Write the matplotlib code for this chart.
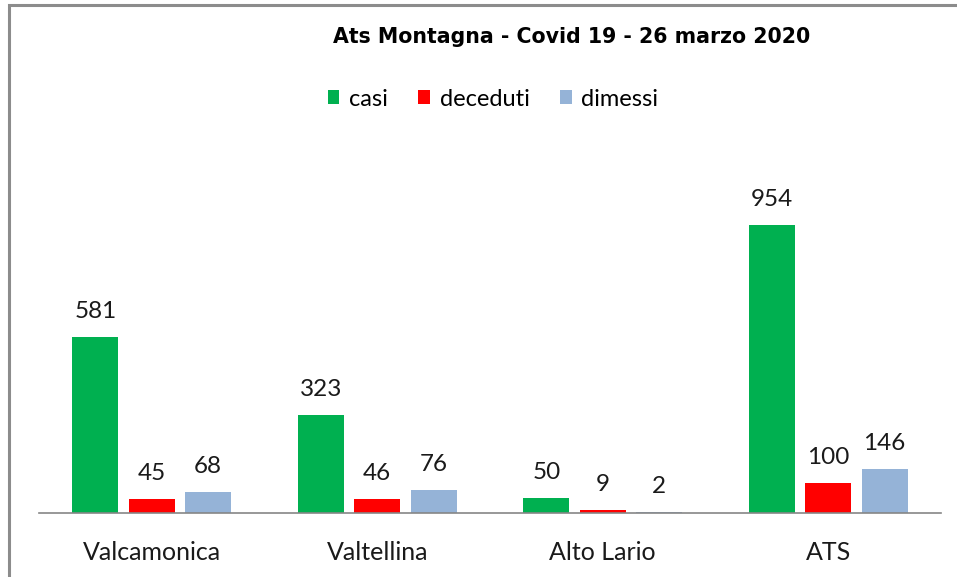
import matplotlib.pyplot as plt
import numpy as np
from matplotlib.patches import Rectangle

# --- Données ---
categorie = ["Valcamonica", "Valtellina", "Alto Lario", "ATS"]
casi = [581, 323, 50, 954]
deceduti = [45, 46, 9, 100]
dimessi = [68, 76, 2, 146]

serie = [("casi", casi, "#00B050"),
         ("deceduti", deceduti, "#FF0000"),
         ("dimessi", dimessi, "#95B3D7")]

plt.rcParams["font.family"] = ["Lato", "DejaVu Sans"]

W, H = 957, 577
fig = plt.figure(figsize=(W / 100, H / 100), dpi=100)
ax = fig.add_axes([39 / W, 1 - 513 / H, (941 - 39) / W, (513 - 150) / H])

x = np.arange(len(categorie))
step = 0.25
width = 0.204
for i, (nome, vals, col) in enumerate(serie):
    pos = x + (i - 1) * step
    bars = ax.bar(pos, vals, width=width, color=col, label=nome, zorder=2)
    for b, v in zip(bars, vals):
        ax.annotate(str(v), (b.get_x() + b.get_width() / 2, v),
                    xytext=(0, 13.7), textcoords="offset points",
                    ha="center", va="baseline", fontsize=17.5, color="#1a1a1a")

ax.set_xlim(-0.5, len(categorie) - 0.5)
ax.set_ylim(0, (513 - 150) * 3.31)
ax.set_xticks(x)
ax.set_xticklabels(categorie, fontsize=18, color="#1a1a1a")
ax.tick_params(axis="x", length=0, pad=20)
ax.set_yticks([])
for s in ("top", "right", "left"):
    ax.spines[s].set_visible(False)
ax.spines["bottom"].set_color("#868686")
ax.spines["bottom"].set_linewidth(1.2)

fig.text(572 / W, 1 - 37 / H, "Ats Montagna - Covid 19 - 26 marzo 2020",
         ha="center", va="center", fontsize=14.8, fontweight="bold",
         family="DejaVu Sans")

fig.legend(loc="center", bbox_to_anchor=(493 / W, 1 - 99 / H), ncol=3,
           frameon=False, fontsize=17, handlelength=0.5, handleheight=0.5,
           handletextpad=0.4, columnspacing=1.3)

# bordure de la zone graphique (coupée à droite et en bas)
fig.patches.append(Rectangle((9 / W, -0.1), 1.2, 1.1 - 5 / H,
                             transform=fig.transFigure, fill=False,
                             edgecolor="#8c8c8c", linewidth=2.2))

fig.savefig("out.png", dpi=100)
